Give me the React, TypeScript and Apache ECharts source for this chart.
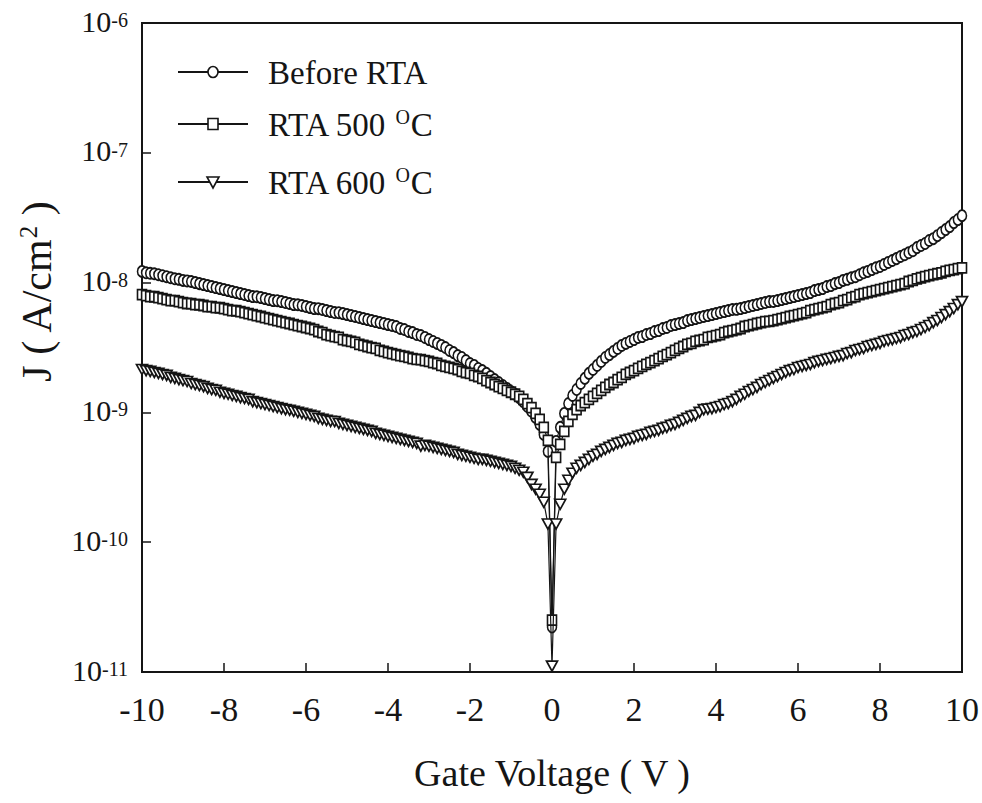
import React, { useEffect, useRef } from "react";
import * as echarts from "echarts";

const voltages = [
  -10, -9.9, -9.8, -9.7, -9.6, -9.5, -9.4, -9.3, -9.2, -9.1,
  -9, -8.9, -8.8, -8.7, -8.6, -8.5, -8.4, -8.3, -8.2, -8.1,
  -8, -7.9, -7.8, -7.7, -7.6, -7.5, -7.4, -7.3, -7.2, -7.1,
  -7, -6.9, -6.8, -6.7, -6.6, -6.5, -6.4, -6.3, -6.2, -6.1,
  -6, -5.9, -5.8, -5.7, -5.6, -5.5, -5.4, -5.3, -5.2, -5.1,
  -5, -4.9, -4.8, -4.7, -4.6, -4.5, -4.4, -4.3, -4.2, -4.1,
  -4, -3.9, -3.8, -3.7, -3.6, -3.5, -3.4, -3.3, -3.2, -3.1,
  -3, -2.9, -2.8, -2.7, -2.6, -2.5, -2.4, -2.3, -2.2, -2.1,
  -2, -1.9, -1.8, -1.7, -1.6, -1.5, -1.4, -1.3, -1.2, -1.1,
  -1, -0.9, -0.8, -0.7, -0.6, -0.5, -0.4, -0.3, -0.2, -0.1,
  0,
  0.1, 0.2, 0.3, 0.4, 0.5, 0.6, 0.7, 0.8, 0.9, 1,
  1.1, 1.2, 1.3, 1.4, 1.5, 1.6, 1.7, 1.8, 1.9, 2,
  2.1, 2.2, 2.3, 2.4, 2.5, 2.6, 2.7, 2.8, 2.9, 3,
  3.1, 3.2, 3.3, 3.4, 3.5, 3.6, 3.7, 3.8, 3.9, 4,
  4.1, 4.2, 4.3, 4.4, 4.5, 4.6, 4.7, 4.8, 4.9, 5,
  5.1, 5.2, 5.3, 5.4, 5.5, 5.6, 5.7, 5.8, 5.9, 6,
  6.1, 6.2, 6.3, 6.4, 6.5, 6.6, 6.7, 6.8, 6.9, 7,
  7.1, 7.2, 7.3, 7.4, 7.5, 7.6, 7.7, 7.8, 7.9, 8,
  8.1, 8.2, 8.3, 8.4, 8.5, 8.6, 8.7, 8.8, 8.9, 9,
  9.1, 9.2, 9.3, 9.4, 9.5, 9.6, 9.7, 9.8, 9.9, 10,
];

// J (A/cm^2) — Before RTA
const beforeRTA = [
  1.22e-8, 1.19e-8, 1.18e-8, 1.17e-8, 1.15e-8, 1.13e-8, 1.11e-8, 1.09e-8, 1.07e-8, 1.06e-8,
  1.04e-8, 1.03e-8, 1.02e-8, 1.0e-8, 9.82e-9, 9.65e-9, 9.48e-9, 9.32e-9, 9.15e-9, 8.99e-9,
  8.84e-9, 8.68e-9, 8.53e-9, 8.38e-9, 8.23e-9, 8.09e-9, 7.94e-9, 7.8e-9, 7.78e-9, 7.67e-9,
  7.53e-9, 7.4e-9, 7.27e-9, 7.25e-9, 7.14e-9, 7.02e-9, 6.9e-9, 6.77e-9, 6.75e-9, 6.66e-9,
  6.54e-9, 6.42e-9, 6.31e-9, 6.3e-9, 6.2e-9, 6.09e-9, 5.98e-9, 5.88e-9, 5.86e-9, 5.77e-9,
  5.67e-9, 5.57e-9, 5.48e-9, 5.38e-9, 5.28e-9, 5.19e-9, 5.1e-9, 5.01e-9, 4.92e-9, 4.84e-9,
  4.75e-9, 4.67e-9, 4.59e-9, 4.43e-9, 4.35e-9, 4.2e-9, 4.12e-9, 3.98e-9, 3.91e-9, 3.78e-9,
  3.64e-9, 3.52e-9, 3.4e-9, 3.28e-9, 3.16e-9, 3.0e-9, 2.89e-9, 2.74e-9, 2.65e-9, 2.51e-9,
  2.38e-9, 2.3e-9, 2.18e-9, 2.1e-9, 2.0e-9, 1.89e-9, 1.79e-9, 1.7e-9, 1.61e-9, 1.53e-9,
  1.45e-9, 1.38e-9, 1.3e-9, 1.21e-9, 1.11e-9, 1.02e-9, 9.15e-10, 8.09e-10, 6.77e-10, 5.01e-10,
  2.22e-11,
  5.98e-10, 7.67e-10, 9.82e-10, 1.17e-9, 1.35e-9, 1.5e-9, 1.67e-9, 1.83e-9, 2.0e-9, 2.14e-9,
  2.3e-9, 2.47e-9, 2.65e-9, 2.79e-9, 2.95e-9, 3.11e-9, 3.28e-9, 3.4e-9, 3.52e-9, 3.64e-9,
  3.78e-9, 3.84e-9, 3.98e-9, 4.05e-9, 4.2e-9, 4.27e-9, 4.43e-9, 4.51e-9, 4.67e-9, 4.75e-9,
  4.84e-9, 4.92e-9, 5.1e-9, 5.19e-9, 5.28e-9, 5.38e-9, 5.48e-9, 5.57e-9, 5.67e-9, 5.77e-9,
  5.88e-9, 5.98e-9, 6.09e-9, 6.2e-9, 6.22e-9, 6.31e-9, 6.42e-9, 6.54e-9, 6.66e-9, 6.77e-9,
  6.9e-9, 7.02e-9, 7.14e-9, 7.16e-9, 7.27e-9, 7.4e-9, 7.53e-9, 7.67e-9, 7.8e-9, 7.94e-9,
  8.09e-9, 8.23e-9, 8.38e-9, 8.68e-9, 8.84e-9, 8.99e-9, 9.32e-9, 9.48e-9, 9.82e-9, 1.0e-8,
  1.04e-8, 1.06e-8, 1.09e-8, 1.11e-8, 1.15e-8, 1.19e-8, 1.22e-8, 1.26e-8, 1.3e-8, 1.33e-8,
  1.38e-8, 1.43e-8, 1.48e-8, 1.53e-8, 1.59e-8, 1.64e-8, 1.7e-8, 1.76e-8, 1.86e-8, 1.93e-8,
  2.0e-8, 2.11e-8, 2.18e-8, 2.3e-8, 2.43e-8, 2.56e-8, 2.7e-8, 2.9e-8, 3.06e-8, 3.28e-8,
];

// J (A/cm^2) — RTA 500 °C
const rta500 = [
  8.09e-9, 7.94e-9, 7.8e-9, 7.78e-9, 7.67e-9, 7.53e-9, 7.4e-9, 7.27e-9, 7.25e-9, 7.14e-9,
  7.02e-9, 6.9e-9, 6.88e-9, 6.77e-9, 6.75e-9, 6.66e-9, 6.54e-9, 6.52e-9, 6.42e-9, 6.4e-9,
  6.31e-9, 6.2e-9, 6.09e-9, 6.07e-9, 5.98e-9, 5.88e-9, 5.77e-9, 5.67e-9, 5.57e-9, 5.48e-9,
  5.38e-9, 5.28e-9, 5.19e-9, 5.1e-9, 5.01e-9, 4.92e-9, 4.84e-9, 4.75e-9, 4.67e-9, 4.59e-9,
  4.51e-9, 4.43e-9, 4.35e-9, 4.2e-9, 4.12e-9, 3.98e-9, 3.91e-9, 3.84e-9, 3.78e-9, 3.64e-9,
  3.58e-9, 3.52e-9, 3.46e-9, 3.34e-9, 3.28e-9, 3.22e-9, 3.16e-9, 3.11e-9, 3.0e-9, 2.95e-9,
  2.89e-9, 2.84e-9, 2.79e-9, 2.74e-9, 2.7e-9, 2.65e-9, 2.6e-9, 2.56e-9, 2.55e-9, 2.51e-9,
  2.47e-9, 2.42e-9, 2.38e-9, 2.3e-9, 2.26e-9, 2.22e-9, 2.18e-9, 2.14e-9, 2.07e-9, 2.03e-9,
  2.0e-9, 1.93e-9, 1.89e-9, 1.83e-9, 1.76e-9, 1.7e-9, 1.64e-9, 1.58e-9, 1.53e-9, 1.48e-9,
  1.43e-9, 1.38e-9, 1.33e-9, 1.26e-9, 1.17e-9, 1.09e-9, 9.82e-10, 8.84e-10, 7.67e-10, 6.09e-10,
  2.51e-11,
  4.51e-10, 5.67e-10, 7.14e-10, 8.53e-10, 9.65e-10, 1.05e-9, 1.13e-9, 1.19e-9, 1.26e-9, 1.33e-9,
  1.4e-9, 1.48e-9, 1.56e-9, 1.64e-9, 1.7e-9, 1.79e-9, 1.86e-9, 1.96e-9, 2.03e-9, 2.1e-9,
  2.18e-9, 2.26e-9, 2.34e-9, 2.42e-9, 2.51e-9, 2.6e-9, 2.7e-9, 2.79e-9, 2.89e-9, 3.0e-9,
  3.11e-9, 3.22e-9, 3.34e-9, 3.4e-9, 3.52e-9, 3.58e-9, 3.64e-9, 3.78e-9, 3.84e-9, 3.91e-9,
  3.98e-9, 4.12e-9, 4.2e-9, 4.27e-9, 4.35e-9, 4.43e-9, 4.59e-9, 4.67e-9, 4.75e-9, 4.84e-9,
  4.92e-9, 5.01e-9, 5.03e-9, 5.1e-9, 5.19e-9, 5.28e-9, 5.38e-9, 5.48e-9, 5.57e-9, 5.67e-9,
  5.77e-9, 5.88e-9, 6.09e-9, 6.2e-9, 6.31e-9, 6.42e-9, 6.54e-9, 6.77e-9, 6.9e-9, 7.02e-9,
  7.27e-9, 7.4e-9, 7.67e-9, 7.8e-9, 8.09e-9, 8.23e-9, 8.38e-9, 8.53e-9, 8.68e-9, 8.84e-9,
  8.99e-9, 9.15e-9, 9.32e-9, 9.48e-9, 9.65e-9, 9.82e-9, 1.02e-8, 1.04e-8, 1.07e-8, 1.09e-8,
  1.11e-8, 1.13e-8, 1.15e-8, 1.17e-8, 1.19e-8, 1.22e-8, 1.24e-8, 1.26e-8, 1.28e-8, 1.3e-8,
];

// J (A/cm^2) — RTA 600 °C
const rta600 = [
  2.14e-9, 2.1e-9, 2.07e-9, 2.03e-9, 2.0e-9, 1.96e-9, 1.93e-9, 1.86e-9, 1.83e-9, 1.79e-9,
  1.76e-9, 1.73e-9, 1.67e-9, 1.64e-9, 1.61e-9, 1.58e-9, 1.53e-9, 1.5e-9, 1.48e-9, 1.43e-9,
  1.4e-9, 1.38e-9, 1.35e-9, 1.33e-9, 1.3e-9, 1.28e-9, 1.26e-9, 1.21e-9, 1.19e-9, 1.17e-9,
  1.15e-9, 1.13e-9, 1.11e-9, 1.09e-9, 1.07e-9, 1.05e-9, 1.04e-9, 1.02e-9, 1.0e-9, 9.82e-10,
  9.65e-10, 9.48e-10, 9.32e-10, 8.99e-10, 8.84e-10, 8.68e-10, 8.53e-10, 8.5e-10, 8.23e-10, 8.09e-10,
  7.94e-10, 7.8e-10, 7.67e-10, 7.53e-10, 7.4e-10, 7.27e-10, 7.14e-10, 6.9e-10, 6.77e-10, 6.66e-10,
  6.54e-10, 6.42e-10, 6.31e-10, 6.2e-10, 6.09e-10, 5.98e-10, 5.88e-10, 5.77e-10, 5.5e-10, 5.57e-10,
  5.48e-10, 5.38e-10, 5.28e-10, 5.19e-10, 5.1e-10, 5.01e-10, 4.92e-10, 4.75e-10, 4.67e-10, 4.59e-10,
  4.51e-10, 4.43e-10, 4.35e-10, 4.35e-10, 4.27e-10, 4.2e-10, 4.12e-10, 4.05e-10, 3.98e-10, 3.91e-10,
  3.84e-10, 3.71e-10, 3.58e-10, 3.46e-10, 3.16e-10, 2.79e-10, 2.56e-10, 2.34e-10, 2.03e-10, 1.38e-10,
  1.11e-11,
  1.38e-10, 1.96e-10, 2.56e-10, 3.0e-10, 3.4e-10, 3.71e-10, 3.91e-10, 4.12e-10, 4.35e-10, 4.59e-10,
  4.75e-10, 5.01e-10, 5.19e-10, 5.38e-10, 5.57e-10, 5.77e-10, 5.88e-10, 6.09e-10, 6.2e-10, 6.31e-10,
  6.54e-10, 6.66e-10, 6.77e-10, 7.02e-10, 7.14e-10, 7.27e-10, 7.53e-10, 7.67e-10, 7.94e-10, 8.09e-10,
  8.38e-10, 8.68e-10, 8.99e-10, 9.32e-10, 9.48e-10, 1.0e-9, 1.05e-9, 1.06e-9, 1.07e-9, 1.09e-9,
  1.11e-9, 1.15e-9, 1.17e-9, 1.21e-9, 1.26e-9, 1.33e-9, 1.38e-9, 1.45e-9, 1.5e-9, 1.56e-9,
  1.64e-9, 1.7e-9, 1.76e-9, 1.83e-9, 1.89e-9, 1.96e-9, 2.03e-9, 2.1e-9, 2.14e-9, 2.22e-9,
  2.26e-9, 2.3e-9, 2.34e-9, 2.42e-9, 2.47e-9, 2.51e-9, 2.56e-9, 2.6e-9, 2.65e-9, 2.7e-9,
  2.74e-9, 2.84e-9, 2.89e-9, 3.0e-9, 3.05e-9, 3.11e-9, 3.22e-9, 3.28e-9, 3.34e-9, 3.4e-9,
  3.52e-9, 3.58e-9, 3.64e-9, 3.71e-9, 3.78e-9, 3.91e-9, 3.98e-9, 4.12e-9, 4.2e-9, 4.35e-9,
  4.51e-9, 4.67e-9, 4.92e-9, 5.1e-9, 5.38e-9, 5.67e-9, 5.98e-9, 6.31e-9, 6.77e-9, 7.14e-9,
];

const seriesNames = ["Before RTA", "RTA 500 °C", "RTA 600 °C"];
const xTitle = "Gate Voltage ( V )";

const FONT = '"Liberation Serif", "Times New Roman", "DejaVu Serif", serif';
const INK = "#151515";

export default function App() {
  const ref = useRef<HTMLDivElement>(null);

  useEffect(() => {
    if (!ref.current) return;
    const chart = echarts.init(ref.current, undefined, { renderer: "svg" });

    const pair = (ys: number[]) => voltages.map((v, i) => [v, ys[i]]);

    const base = {
      type: "line",
      showSymbol: true,
      lineStyle: { color: INK, width: 1.2 },
      itemStyle: { color: "#ffffff", borderColor: INK, borderWidth: 1.7 },
      emphasis: { disabled: true },
    };

    const legendRows = [
      { y: 72, label: "{t|Before RTA}" },
      { y: 124, label: "{t|RTA 500 }{s|O}{t|C}" },
      { y: 182, label: "{t|RTA 600 }{s|O}{t|C}" },
    ];
    const legendRich = {
      t: { fontSize: 33, fontFamily: FONT, fill: INK, lineHeight: 34, verticalAlign: "bottom" },
      s: { fontSize: 20, fontFamily: FONT, fill: INK, lineHeight: 16, verticalAlign: "top", padding: [0, 1, 0, 0] },
    };

    const legendGraphics: any[] = [];
    legendRows.forEach((r, i) => {
      legendGraphics.push({
        type: "line",
        shape: { x1: 178, y1: r.y, x2: 248, y2: r.y },
        style: { stroke: INK, lineWidth: 1.8 },
      });
      if (i === 0) {
        legendGraphics.push({
          type: "ellipse",
          shape: { cx: 213, cy: r.y, rx: 5, ry: 5.5 },
          style: { fill: "#fff", stroke: INK, lineWidth: 1.6 },
        });
      } else if (i === 1) {
        legendGraphics.push({
          type: "rect",
          shape: { x: 208, y: r.y - 5.5, width: 10, height: 11 },
          style: { fill: "#fff", stroke: INK, lineWidth: 1.6 },
        });
      } else {
        legendGraphics.push({
          type: "polygon",
          shape: { points: [[207, r.y - 5], [219, r.y - 5], [213, r.y + 6]] },
          style: { fill: "#fff", stroke: INK, lineWidth: 1.6 },
        });
      }
      legendGraphics.push({
        type: "text",
        x: 268,
        y: r.y,
        style: { text: r.label, rich: legendRich, verticalAlign: "middle", align: "left" },
      });
    });

    chart.setOption({
      animation: false,
      backgroundColor: "#ffffff",
      grid: {
        left: 142,
        right: 19,
        top: 23,
        bottom: 131,
        show: true,
        borderColor: INK,
        borderWidth: 2,
      },
      xAxis: {
        type: "value",
        min: -10,
        max: 10,
        interval: 2,
        name: xTitle,
        nameLocation: "middle",
        nameGap: 82,
        nameTextStyle: { fontFamily: FONT, fontSize: 38, color: INK },
        axisLine: { show: true, onZero: false, lineStyle: { color: INK, width: 2 } },
        axisTick: { show: true, inside: true, length: 9, lineStyle: { color: INK, width: 1.5 } },
        axisLabel: { fontFamily: FONT, fontSize: 34, color: INK, margin: 20 },
        splitLine: { show: false },
      },
      yAxis: {
        type: "log",
        logBase: 10,
        min: 1e-11,
        max: 1e-6,
        splitNumber: 5,
        axisLine: { show: true, onZero: false, lineStyle: { color: INK, width: 2 } },
        axisTick: { show: true, inside: true, length: 9, lineStyle: { color: INK, width: 1.5 } },
        splitLine: { show: false },
        axisLabel: {
          margin: 14,
          formatter: (v: number) => `{b|10}{s|${Math.round(Math.log10(v))}}`,
          rich: {
            b: { fontFamily: FONT, fontSize: 30, color: INK, lineHeight: 26, verticalAlign: "bottom" },
            s: { fontFamily: FONT, fontSize: 20, color: INK, lineHeight: 12, verticalAlign: "top" },
          },
        },
      },
      graphic: [
        {
          type: "text",
          x: 37,
          y: 292,
          rotation: Math.PI / 2,
          style: {
            text: "{t|J ( A/cm}{s|2}{t| )}",
            align: "center",
            verticalAlign: "middle",
            rich: {
              t: { fontSize: 42, fontFamily: FONT, fill: INK, lineHeight: 42, verticalAlign: "bottom" },
              s: { fontSize: 25, fontFamily: FONT, fill: INK, lineHeight: 20, verticalAlign: "top" },
            },
          },
        },
        ...legendGraphics,
      ],
      series: [
        { ...base, name: seriesNames[0], symbol: "circle", symbolSize: [9, 11], data: pair(beforeRTA), z: 2 },
        { ...base, name: seriesNames[1], symbol: "rect", symbolSize: [9, 10], data: pair(rta500), z: 3 },
        {
          ...base,
          name: seriesNames[2],
          symbol: "triangle",
          symbolRotate: 180,
          symbolSize: [11, 10],
          data: pair(rta600),
          z: 4,
        },
      ],
    });

    return () => chart.dispose();
  }, []);

  return (
    <div
      ref={ref}
      style={{ position: "absolute", left: 0, top: 0, width: 982, height: 803, background: "#fff" }}
    />
  );
}
